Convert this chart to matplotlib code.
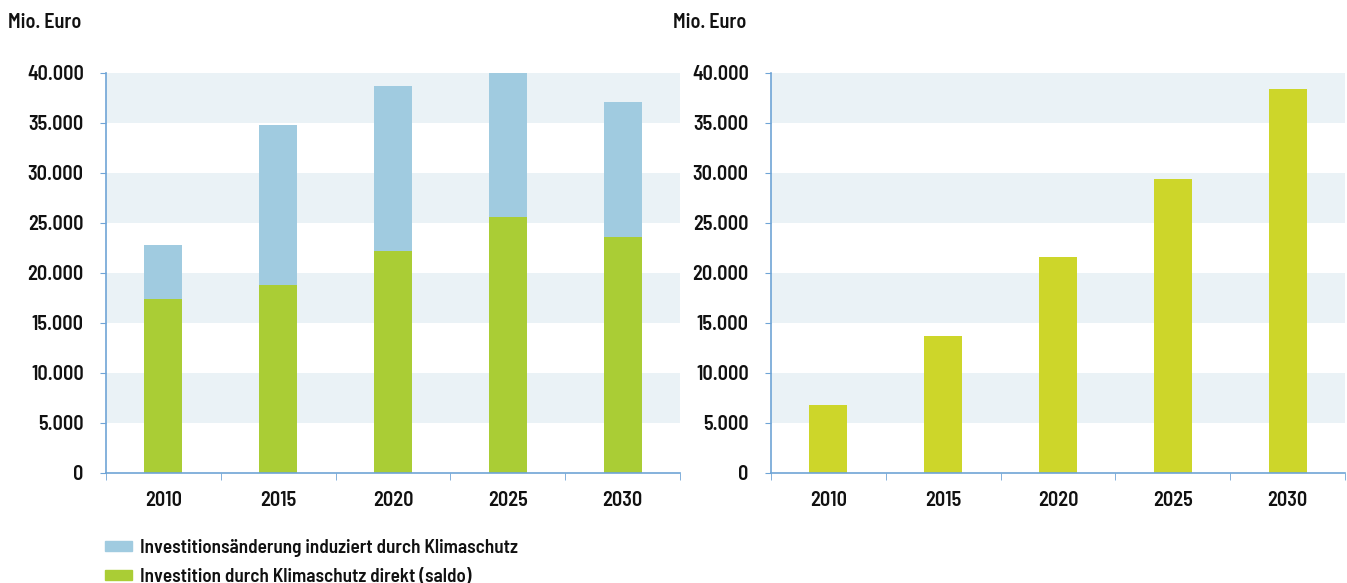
import matplotlib.pyplot as plt
from matplotlib.patches import Patch
from matplotlib import font_manager
import numpy as np

# Data (Mio. Euro)
years = ['2010', '2015', '2020', '2025', '2030']
direkt = [17400, 18800, 22200, 25600, 23600]
gesamt = [22800, 34800, 38700, 40000, 37100]
induziert = [g - d for g, d in zip(gesamt, direkt)]
right_vals = [6800, 13700, 21600, 29400, 38400]
yticks = [0, 5000, 10000, 15000, 20000, 25000, 30000, 35000, 40000]

c_blue = '#A0CBE0'
c_green = '#AACD35'
c_green2 = '#CDD62A'
c_band = '#EAF2F6'
c_axis = '#6FA4D6'
c_text = '#111111'

names = {f.name for f in font_manager.fontManager.ttflist}
fam = 'Barlow Semi Condensed' if 'Barlow Semi Condensed' in names else 'DejaVu Sans'
plt.rcParams['font.family'] = [fam, 'DejaVu Sans']
plt.rcParams['font.size'] = 14.5
plt.rcParams['font.weight'] = 600


def fmt(v):
    return f'{v:,}'.replace(',', '.')


def style_axes(ax):
    x = np.arange(len(years))
    for lo in range(5000, 40000, 10000):
        ax.axhspan(lo, lo + 5000, color=c_band, zorder=0, lw=0)
    ax.set_xlim(-0.5, len(years) - 0.5)
    ax.set_ylim(0, 40000)
    ax.set_yticks(yticks)
    ax.set_yticklabels([fmt(v) for v in yticks])
    ax.set_xticks(x)
    ax.set_xticklabels(years)
    ax.set_xticks(np.arange(-0.5, len(years)), minor=True)
    ax.tick_params(axis='x', which='major', length=0, pad=13)
    ax.tick_params(axis='x', which='minor', length=5, color=c_axis, direction='out')
    ax.tick_params(axis='y', length=4, color=c_axis, direction='out', pad=12)
    for s in ['top', 'right']:
        ax.spines[s].set_visible(False)
    for s in ['left', 'bottom']:
        ax.spines[s].set_color(c_axis)
        ax.spines[s].set_linewidth(1.2)
    for lab in ax.get_xticklabels() + ax.get_yticklabels():
        lab.set_color(c_text)


fig = plt.figure(figsize=(13.47, 5.83), dpi=100)
ax1 = fig.add_axes([0.0787, 0.1887, 0.4261, 0.6861])
ax2 = fig.add_axes([0.5724, 0.1887, 0.4261, 0.6861])

x = np.arange(len(years))
w = 0.33
ax1.bar(x, direkt, width=w, color=c_green, zorder=2)
ax1.bar(x, induziert, width=w, bottom=direkt, color=c_blue, zorder=2)
style_axes(ax1)

ax2.bar(x, right_vals, width=w, color=c_green2, zorder=2)
style_axes(ax2)

fig.text(8 / 1347, 1 - 22 / 583, 'Mio. Euro', ha='left', va='center', color=c_text)
fig.text(673 / 1347, 1 - 22 / 583, 'Mio. Euro', ha='left', va='center', color=c_text)

handles = [Patch(color=c_blue, label='Investitionsänderung induziert durch Klimaschutz'),
           Patch(color=c_green, label='Investition durch Klimaschutz direkt (saldo)')]
leg = fig.legend(handles=handles, loc='upper left', bbox_to_anchor=(105 / 1347, 1 - 539 / 583),
                 frameon=False, handlelength=1.4, handleheight=0.45, handletextpad=0.45,
                 labelspacing=0.55, borderaxespad=0, borderpad=0, fontsize=13.8)
for t in leg.get_texts():
    t.set_color(c_text)

fig.savefig('out.png', dpi=100)
